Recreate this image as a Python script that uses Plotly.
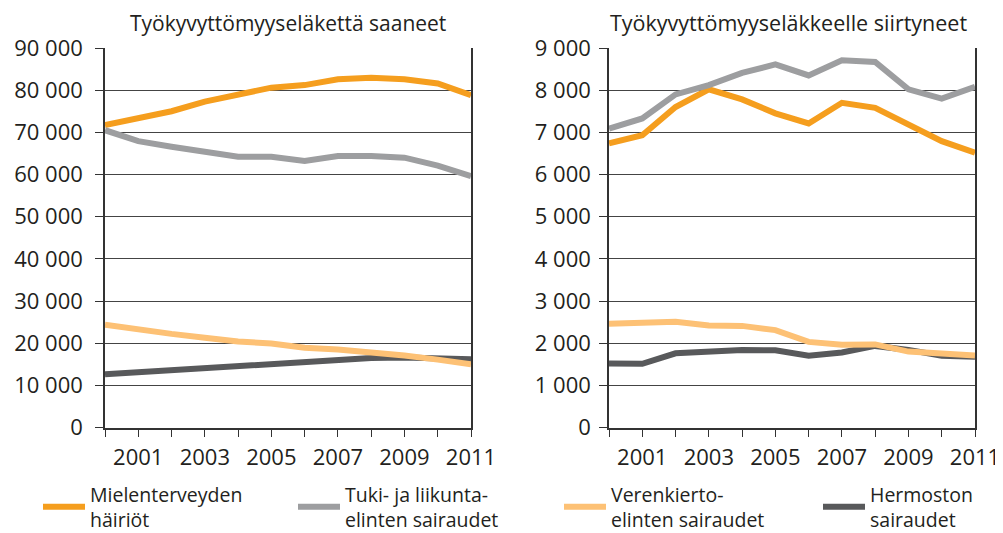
import plotly.graph_objects as go

years = list(range(2000, 2012))
tick_labels = ["" if y % 2 == 0 else str(y) for y in years]

# Left: Työkyvyttömyyseläkettä saaneet
left_mielenterveys = [71700, 73300, 75000, 77300, 78800, 80600, 81200, 82600, 82950, 82600, 81600, 78800]
left_tuki = [70500, 67900, 66600, 65400, 64200, 64200, 63200, 64400, 64400, 64000, 62100, 59600]
left_verenkierto = [24400, 23200, 22200, 21300, 20400, 19900, 18900, 18500, 17900, 17100, 16100, 15000]
left_hermosto = [12600, 13100, 13700, 14200, 14700, 15300, 15500, 16000, 16500, 16600, 16500, 16200]

# Right: Työkyvyttömyyseläkkeelle siirtyneet
right_mielenterveys = [6740, 6930, 7600, 8020, 7780, 7450, 7210, 7700, 7580, 7190, 6790, 6515]
right_tuki = [7090, 7330, 7900, 8120, 8410, 8610, 8350, 8710, 8670, 8020, 7800, 8080]
right_verenkierto = [2460, 2470, 2510, 2420, 2410, 2310, 2030, 1960, 1970, 1800, 1740, 1710]
right_hermosto = [1520, 1510, 1760, 1815, 1840, 1830, 1700, 1780, 1935, 1840, 1700, 1680]

names = ["Mielenterveyden<br>häiriöt", "Tuki- ja liikunta-<br>elinten sairaudet",
         "Verenkierto-<br>elinten sairaudet", "Hermoston<br>sairaudet"]
colors = ["#F59E1E", "#9D9EA0", "#FDC175", "#58595B"]
titles = ["Työkyvyttömyyseläkettä saaneet", "Työkyvyttömyyseläkkeelle siirtyneet"]

FONT = "Open Sans"
TXT = "#231F20"
OFF = 8  # default page margin of the html body
W, H = 1003 - OFF, 533 - OFF

def px(x):
    return (x - OFF) / W

def py(y):
    return 1 - (y - OFF) / H

fig = go.Figure()
left = [left_mielenterveys, left_tuki, left_verenkierto, left_hermosto]
right = [right_mielenterveys, right_tuki, right_verenkierto, right_hermosto]
legend_ids = ["legend", "legend2", "legend3", "legend4"]
draw_order = [0, 1, 3, 2]
for i in draw_order:
    fig.add_trace(go.Scatter(x=years, y=left[i], mode="lines", name=names[i],
                             line=dict(color=colors[i], width=6), legend=legend_ids[i],
                             xaxis="x", yaxis="y", showlegend=True))
for i in draw_order:
    fig.add_trace(go.Scatter(x=years, y=right[i], mode="lines", name=names[i],
                             line=dict(color=colors[i], width=6),
                             xaxis="x2", yaxis="y2", showlegend=False))

xd1 = [px(105), px(471)]
xd2 = [px(609), px(975)]
yd = [py(427.5), py(48)]

def xaxis(domain, anchor):
    return dict(domain=domain, anchor=anchor, range=[2000, 2011], tickvals=years, ticktext=tick_labels,
                ticks="outside", ticklen=8, tickcolor="#333333", showline=True, linecolor="#333333",
                linewidth=1.5, showgrid=False, zeroline=False, automargin=False, ticklabelstandoff=1,
                tickfont=dict(family=FONT, size=22, color=TXT))

def yaxis(domain, anchor, rng, dtick, standoff):
    return dict(domain=domain, anchor=anchor, range=rng, dtick=dtick, ticks="outside", ticklen=8,
                tickcolor="#333333", showline=True, linecolor="#333333", linewidth=1.5, mirror=True,
                showgrid=True, gridcolor="#444444", gridwidth=1, zeroline=False, automargin=False,
                tickformat=",d", ticklabelstandoff=standoff,
                tickfont=dict(family=FONT, size=22, color=TXT))

def legend(x_px):
    return dict(orientation="v", x=px(x_px), xanchor="left", y=py(507), yanchor="middle",
                itemwidth=42, font=dict(family=FONT, size=19.5, color=TXT),
                bgcolor="rgba(0,0,0,0)", borderwidth=0)

fig.update_layout(
    width=W, height=H,
    margin=dict(l=0, r=0, t=0, b=0, autoexpand=False),
    paper_bgcolor="white", plot_bgcolor="white",
    separators=", ",
    font=dict(family=FONT, color=TXT),
    xaxis=xaxis(xd1, "y"),
    yaxis=yaxis(yd, "x", [0, 90000], 10000, 8),
    xaxis2=xaxis(xd2, "y2"),
    yaxis2=yaxis(yd, "x2", [0, 9000], 1000, 4),
    legend=legend(38),
    legend2=legend(293),
    legend3=legend(559),
    legend4=legend(818),
    annotations=[
        dict(text=titles[0], x=(xd1[0] + xd1[1]) / 2, y=py(22.5), xref="paper", yref="paper",
             xanchor="center", yanchor="middle", showarrow=False, borderpad=0,
             font=dict(family=FONT, size=21, color=TXT)),
        dict(text=titles[1], x=(xd2[0] + xd2[1]) / 2 - 4 / W, y=py(22.5), xref="paper", yref="paper",
             xanchor="center", yanchor="middle", showarrow=False, borderpad=0,
             font=dict(family=FONT, size=21.5, color=TXT)),
    ],
)

fig.write_html("out.html")
